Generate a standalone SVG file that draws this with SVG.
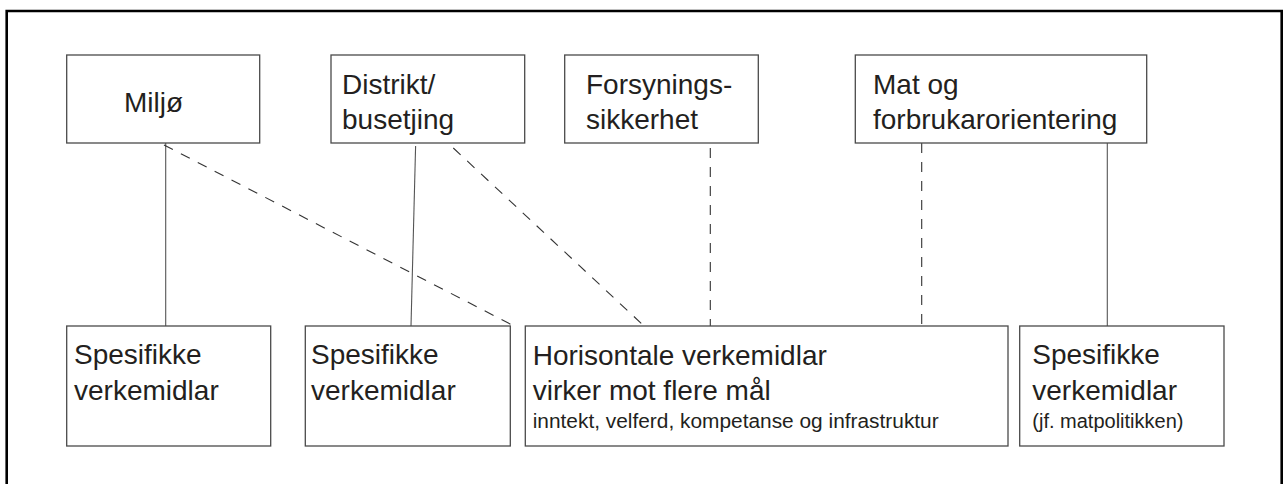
<svg xmlns="http://www.w3.org/2000/svg" width="1285" height="484" viewBox="0 0 1285 484">
<style>
.frame{fill:none;stroke:#000;stroke-width:2.6}
.box{fill:#fff;stroke:#4a4a4a;stroke-width:1.3}
.t{font-family:"Liberation Sans",Arial,sans-serif;font-size:28px;fill:#231f20}
.s{font-family:"Liberation Sans",Arial,sans-serif;font-size:20px;fill:#231f20}
.solid{stroke:#555;stroke-width:1.1;fill:none}
.dash{stroke:#333;stroke-width:1.1;fill:none;stroke-dasharray:10 9}
</style>
<rect width="1285" height="484" fill="#fff"/>
<path class="frame" d="M6.7,490 V11 H1281.7 V490"/>
<g id="connectors">
<line class="solid" x1="165.7" y1="143" x2="165.7" y2="326"/>
<line class="dash" x1="164" y1="145" x2="514" y2="326"/>
<line class="solid" x1="415.6" y1="146" x2="411" y2="326"/>
<line class="dash" x1="453.3" y1="148" x2="643" y2="325"/>
<line class="dash" x1="710.3" y1="148" x2="710.3" y2="326"/>
<line class="dash" x1="921.7" y1="143" x2="921.7" y2="326"/>
<line class="solid" x1="1107.3" y1="143" x2="1107.3" y2="326"/>
</g>
<g id="miljo">
<rect class="box" x="66.7" y="55" width="193" height="88"/>
<text class="t" x="124" y="112">Miljø</text>
</g>
<g id="distrikt">
<rect class="box" x="331" y="55" width="193.7" height="88"/>
<text class="t" x="342" y="94">Distrikt/</text>
<text class="t" x="342" y="129">busetjing</text>
</g>
<g id="forsynings">
<rect class="box" x="564.7" y="55" width="193.6" height="88"/>
<text class="t" x="586" y="94">Forsynings-</text>
<text class="t" x="586" y="129">sikkerhet</text>
</g>
<g id="mat">
<rect class="box" x="855.3" y="55" width="291.4" height="88"/>
<text class="t" x="873" y="94">Mat og</text>
<text class="t" x="873" y="129">forbrukarorientering</text>
</g>
<g id="spesifikke1">
<rect class="box" x="66.7" y="326" width="204" height="120"/>
<text class="t" x="74" y="364">Spesifikke</text>
<text class="t" x="74" y="400">verkemidlar</text>
</g>
<g id="spesifikke2">
<rect class="box" x="305.3" y="326" width="205" height="120"/>
<text class="t" x="311" y="364">Spesifikke</text>
<text class="t" x="311" y="400">verkemidlar</text>
</g>
<g id="horisontale">
<rect class="box" x="525.3" y="326" width="482.7" height="120"/>
<text class="t" x="532.7" y="365">Horisontale verkemidlar</text>
<text class="t" x="532.7" y="400">virker mot flere mål</text>
<text class="s" x="532.7" y="428" textLength="406" lengthAdjust="spacingAndGlyphs">inntekt, velferd, kompetanse og infrastruktur</text>
</g>
<g id="spesifikke3">
<rect class="box" x="1019.7" y="326" width="204.3" height="120"/>
<text class="t" x="1032.3" y="364">Spesifikke</text>
<text class="t" x="1032.3" y="400">verkemidlar</text>
<text class="s" x="1032.3" y="428">(jf. matpolitikken)</text>
</g>
</svg>
